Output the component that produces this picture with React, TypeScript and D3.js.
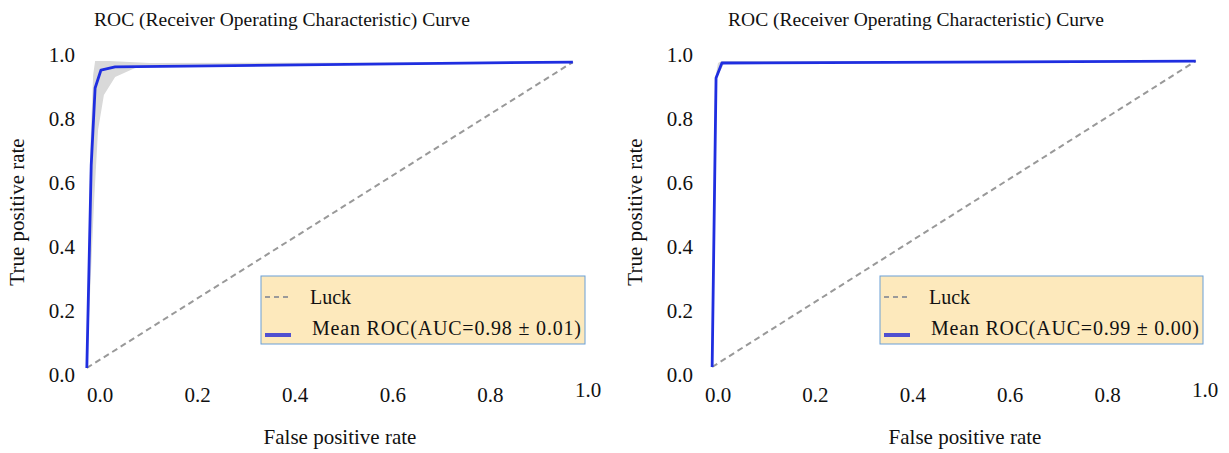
import React from 'react';
import * as d3 from 'd3';

// tick values shared by both panels
const ticks = [0, 0.2, 0.4, 0.6, 0.8, 1.0];

// diagonal "Luck" reference
const luckLeft: [number, number][] = [[-0.027, 0.022], [0.969, 0.978]];
const luckRight: [number, number][] = [[-0.012, 0.025], [0.981, 0.981]];

// mean ROC curves
const meanLeft: [number, number][] = [
  [-0.027, 0.022], [-0.018, 0.656], [-0.01, 0.897], [0.002, 0.953],
  [0.031, 0.963], [0.41, 0.969], [0.969, 0.978],
];
const meanRight: [number, number][] = [
  [-0.012, 0.025], [-0.004, 0.928], [0.008, 0.975], [0.981, 0.981],
];

// +/- 1 std band
const bandUpperLeft: [number, number][] = [
  [-0.027, 0.022], [-0.02, 0.703], [-0.014, 0.938], [-0.01, 0.981],
  [0.02, 0.981], [0.102, 0.975], [0.969, 0.978],
];
const bandLowerLeft: [number, number][] = [
  [-0.027, 0.022], [-0.012, 0.547], [-0.004, 0.766], [0.008, 0.875],
  [0.031, 0.931], [0.072, 0.959], [0.143, 0.969], [0.969, 0.978],
];
const bandUpperRight: [number, number][] = [
  [-0.012, 0.025], [-0.006, 0.925], [0.0, 0.975], [0.008, 0.981], [0.981, 0.981],
];
const bandLowerRight: [number, number][] = [
  [-0.012, 0.025], [-0.002, 0.93], [0.012, 0.972], [0.981, 0.981],
];

const FONT = '"Liberation Serif", "Times New Roman", "DejaVu Serif", serif';

function Panel({ x0, x1, yLabelX, title, titleX, xLabelX, legendX, legendW, auc, luck, mean, up, low }) {
  const xScale = d3.scaleLinear().domain([0, 1]).range([x0, x1]);
  const yScale = d3.scaleLinear().domain([0, 1]).range([375, 55]);
  const line = d3.line<[number, number]>().x(d => xScale(d[0])).y(d => yScale(d[1]));
  const band = line([...up, ...low.slice().reverse()]) + 'Z';
  const tickEnd = x0 - 25;

  return (
    <g style={{ fontFamily: FONT }} fill="#111">
      <text x={titleX} y={26} textAnchor="middle" fontSize={19.5}>{title}</text>
      <path d={band} fill="#d9d9d9" stroke="none" />
      <path d={line(luck)} fill="none" stroke="#999" strokeWidth={2} strokeDasharray="6,4" />
      <path d={line(mean)} fill="none" stroke="#1f2ee0" strokeWidth={2.8} strokeLinejoin="round" />
      {ticks.map(t => (
        <text key={'y' + t} x={tickEnd} y={yScale(t) + 7} textAnchor="end" fontSize={21}>
          {t.toFixed(1)}
        </text>
      ))}
      {ticks.map((t, i) => (
        <text key={'x' + t} x={xScale(t)} y={i === ticks.length - 1 ? 397 : 402} textAnchor="middle" fontSize={21}>
          {t.toFixed(1)}
        </text>
      ))}
      <text x={xLabelX} y={444} textAnchor="middle" fontSize={21}>False positive rate</text>
      <text transform={`translate(${yLabelX},212) rotate(-90)`} textAnchor="middle" fontSize={21}>
        True positive rate
      </text>
      <g transform={`translate(${legendX},276)`}>
        <rect x={0} y={0} width={legendW} height={68} fill="#fde9bc" stroke="#6a9fd6" strokeWidth={1} />
        <line x1={4} x2={29} y1={21} y2={21} stroke="#9a9a9a" strokeWidth={2} strokeDasharray="5,4" />
        <text x={49} y={28} fontSize={20}>Luck</text>
        <line x1={4} x2={30} y1={59} y2={59} stroke="#5050d0" strokeWidth={4} />
        <text x={51} y={59} fontSize={20} textLength={legendW - 55} lengthAdjust="spacing">
          {'Mean ROC(AUC=' + auc + ')'}
        </text>
      </g>
    </g>
  );
}

export default function App() {
  return (
    <svg width={1229} height={453} style={{ position: 'absolute', left: 0, top: 0, background: '#fff' }}>
      <Panel
        x0={100} x1={588} yLabelX={24} title="ROC (Receiver Operating Characteristic) Curve" titleX={282}
        xLabelX={340} legendX={261} legendW={324} auc="0.98 ± 0.01"
        luck={luckLeft} mean={meanLeft} up={bandUpperLeft} low={bandLowerLeft}
      />
      <Panel
        x0={718} x1={1205} yLabelX={642} title="ROC (Receiver Operating Characteristic) Curve" titleX={916}
        xLabelX={965} legendX={880} legendW={323} auc="0.99 ± 0.00"
        luck={luckRight} mean={meanRight} up={bandUpperRight} low={bandLowerRight}
      />
    </svg>
  );
}
